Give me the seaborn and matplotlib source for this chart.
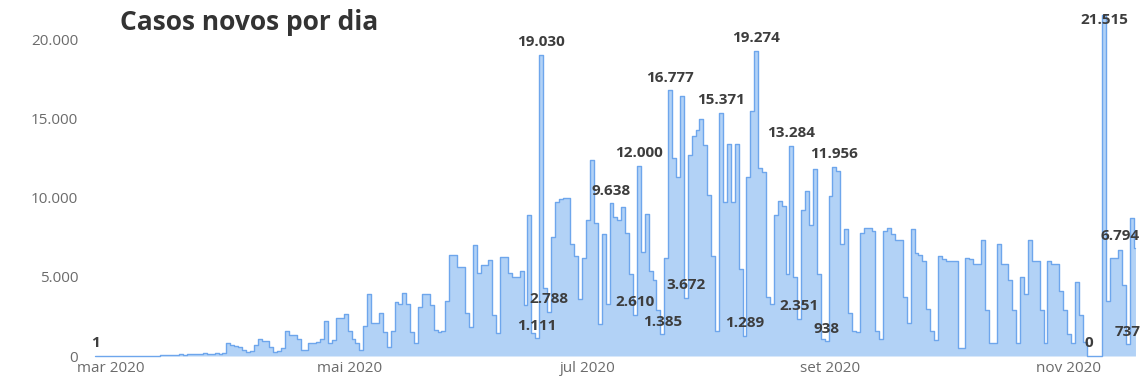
import numpy as np
import pandas as pd
import matplotlib
matplotlib.use("Agg")
import matplotlib.pyplot as plt
import matplotlib.dates as mdates
import seaborn as sns

# ---------------- data ----------------
inicio = "2020-02-26"
casos = [
    1, 0, 0, 0, 0, 1, 0, 0, 2, 3, 3, 0, 3, 6, 14, 10, 20, 34, 45,
    60, 70, 90, 110, 80, 130, 150, 100, 120, 160, 150, 140, 160, 150, 200,
    800, 700, 650, 550, 400, 250, 300, 700, 1100, 950, 950, 600, 250, 300, 500,
    1600, 1300, 1300, 1100, 400, 400, 800, 800, 900, 1100, 2200, 850, 1000, 2400, 2400, 2650, 1600, 1100, 800, 400,
    1900, 3900, 2100, 2100, 2700, 1500, 550, 1600, 3400, 3300, 4000, 3300, 1500, 800,
    3100, 3900, 3900, 3200, 1650, 1500, 1600, 3500, 6400, 6400, 5600, 5600, 2700, 1850,
    7000, 5250, 5750, 5750, 6050, 2600, 1450, 6250, 6250, 5250, 5000, 5000, 5400, 3200, 8900, 1450, 1111,
    19030,
    4300, 2788, 7500, 9700, 9900, 10000, 10000, 7100, 6300, 3600, 6200, 8600, 12400, 8400, 2000, 7700, 3300,
    9638, 8800, 8600, 9400, 7800, 5200, 2610, 12000, 6600, 9000, 5400, 4800, 2900, 1385, 6200, 16777, 12500, 11300, 16400,
    3672, 12700, 13900, 14300, 15000, 13300, 10200, 6300, 1600, 15371, 9700, 13400, 9700, 13400, 5500, 1289,
    11300, 15500, 19274, 11900, 11600, 3700, 3300, 8900, 9800, 9500, 5200, 13284, 5000, 2351, 9200, 10400, 8300, 11800, 5200, 1100, 938,
    10100, 11956, 11700, 7100, 8000, 2700, 1600, 1500, 7800, 8100, 8100, 7900, 1600, 1100, 7900, 8100, 7700, 7300, 7300, 3700, 2100, 8000, 6500, 6400, 6000, 3000, 1600, 1000,
    6300, 6100, 6000, 6000, 6000, 500, 500, 6200, 6100, 5800, 5800, 7300, 2900, 800, 800,
    7100, 5800, 5800, 4800, 2900, 800, 5000, 3900, 7300, 6000, 6000, 2900, 800,
    6000, 5800, 5800, 4100, 2900, 1400, 800, 4700, 2600, 900, 0, 0, 0, 0,
    21515, 3500, 6200, 6200, 6700, 4500, 737, 8700, 6794,
]
# indices (days since start) of the annotated points
idx_rotulos = [0, 113, 114, 116, 132, 138, 139, 145, 147, 151, 160, 166, 169,
               178, 180, 187, 189, 254, 258, 264, 266]
ticks_datas = ["2020-03-01", "2020-05-01", "2020-07-01", "2020-09-01", "2020-11-01"]
ticks_x_rotulos = ["mar 2020", "mai 2020", "jul 2020", "set 2020", "nov 2020"]
ticks_y = [0, 5000, 10000, 15000, 20000]
titulo = "Casos novos por dia"

df = pd.DataFrame({
    "data": pd.date_range(inicio, periods=len(casos), freq="D"),
    "casos": casos,
})

# ---------------- style ----------------
sns.set_theme(style="white")
plt.rcParams["font.family"] = ["Open Sans", "DejaVu Sans"]

W, H = 1148, 389
fig = plt.figure(figsize=(W / 100, H / 100), dpi=100)
left_px, right_px, top_px, bot_px = 88, 1146, 10, 358
ax = fig.add_axes([left_px / W, 1 - bot_px / H, (right_px - left_px) / W, (bot_px - top_px) / H])

linha = "#6ea6ec"
preenchimento = "#b2d2f6"

ax.fill_between(df["data"], df["casos"], step="mid", color=preenchimento, linewidth=0)
sns.lineplot(data=df, x="data", y="casos", drawstyle="steps-mid", color=linha,
             linewidth=1.0, ax=ax)

# axis limits derived from pixel layout
px_per_day = 3.91
x0_px = 95.4
base = mdates.date2num(pd.Timestamp(inicio))
ax.set_xlim(base + (left_px - x0_px) / px_per_day, base + (right_px - x0_px) / px_per_day)
zero_px, px_per_k = 356.0, 15.83
ax.set_ylim(-(bot_px - zero_px) / px_per_k * 1000, (zero_px - top_px) / px_per_k * 1000)

ax.set_xticks([mdates.date2num(pd.Timestamp(d)) for d in ticks_datas])
ax.set_xticklabels(ticks_x_rotulos)
ax.set_yticks(ticks_y)
ax.set_yticklabels([f"{v:,}".replace(",", ".") for v in ticks_y])
ax.tick_params(axis="both", length=0, labelsize=11, colors="#6b6b6b")
ax.tick_params(axis="y", pad=7)
ax.tick_params(axis="x", pad=2)
ax.set_xlabel("")
ax.set_ylabel("")
for s in ax.spines.values():
    s.set_visible(False)
ax.grid(False)
ax.patch.set_alpha(0)

ymax = ax.get_ylim()[1]
for i in idx_rotulos:
    v = casos[i]
    txt = f"{v:,}".replace(",", ".")
    xd = df["data"].iloc[i]
    ha = "center"
    dx = 0
    if i == len(casos) - 1:
        ha = "right"
        dx = 3
    if v > 0.93 * ymax:
        ax.annotate(txt, (xd, v), xytext=(dx, -3), textcoords="offset points",
                    ha=ha, va="center", fontsize=11, fontweight="bold", color="#3d3d3d")
    else:
        ax.annotate(txt, (xd, v), xytext=(dx, 4), textcoords="offset points",
                    ha=ha, va="bottom", fontsize=11, fontweight="bold", color="#3d3d3d")

fig.text(120 / W, 1 - 22 / H, titulo, ha="left", va="center", fontsize=19,
         fontweight="bold", color="#333333")

fig.savefig("out.png", dpi=100, facecolor="white")
